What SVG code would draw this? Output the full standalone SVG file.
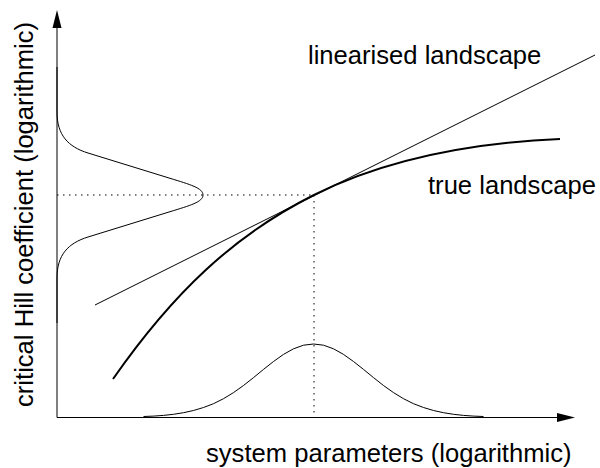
<svg xmlns="http://www.w3.org/2000/svg" width="600" height="468" viewBox="0 0 600 468">
<style>
.t{font-family:"Liberation Sans",Arial,sans-serif;font-size:25.6px;fill:#000}
.thin{fill:none;stroke:#000;stroke-width:1}
.thick{fill:none;stroke:#000;stroke-width:2}
.dot{fill:none;stroke:#000;stroke-width:1;stroke-dasharray:1.5 4.5}
.ah{fill:#000;stroke:none}
</style>
<rect width="600" height="468" fill="#fff"/>
<g id="axes">
<line class="thin" x1="57" y1="417.5" x2="558" y2="417.5"/>
<polygon class="ah" points="575,417.5 557,413 557,422"/>
<line class="thin" x1="57" y1="417.5" x2="57" y2="27"/>
<polygon class="ah" points="57,10 52.5,28 61.5,28"/>
</g>
<g id="guides">
<line class="dot" x1="57" y1="195" x2="314" y2="195"/>
<line class="dot" x1="314" y1="195" x2="314" y2="417"/>
</g>
<g id="left-distribution">
<path class="thin" d="M57,67 L57,112 C57,135 68,146.8 88,153 L170,178.3 C190,184.5 203,188 203,195 C203,202 190,205.5 170,211.7 L88,237 C68,243.2 57,255 57,278 L57,323"/>
</g>
<g id="bottom-distribution">
<polyline class="thin" points="143.5,416.5 153.5,416.1 163.5,415.4 173.5,414.3 183.5,412.7 193.5,410.5 203.5,407.5 213.5,403.7 223.5,398.7 233.5,392.6 243.5,385.5 253.5,377.6 263.5,369.4 273.5,361.5 283.5,354.4 293.5,348.8 303.5,345.2 313.5,344 323.5,345.2 333.5,348.8 343.5,354.4 353.5,361.5 363.5,369.4 373.5,377.6 383.5,385.5 393.5,392.6 403.5,398.7 413.5,403.7 423.5,407.5 433.5,410.5 443.5,412.7 453.5,414.3 463.5,415.4 473.5,416.1 483.5,416.5"/>
</g>
<g id="linearised">
<line class="thin" x1="95" y1="305" x2="595" y2="55"/>
</g>
<g id="true-landscape">
<path class="thick" d="M113,379 C173,293 234,235 314,195 C384,160 470,143 560,139"/>
</g>
<g id="labels">
<text class="t" x="308" y="64">linearised landscape</text>
<text class="t" x="428" y="194">true landscape</text>
<text class="t" x="206" y="462">system parameters (logarithmic)</text>
<text class="t" transform="translate(33,214.5) rotate(-90)" text-anchor="middle">critical Hill coefficient (logarithmic)</text>
</g>
</svg>
